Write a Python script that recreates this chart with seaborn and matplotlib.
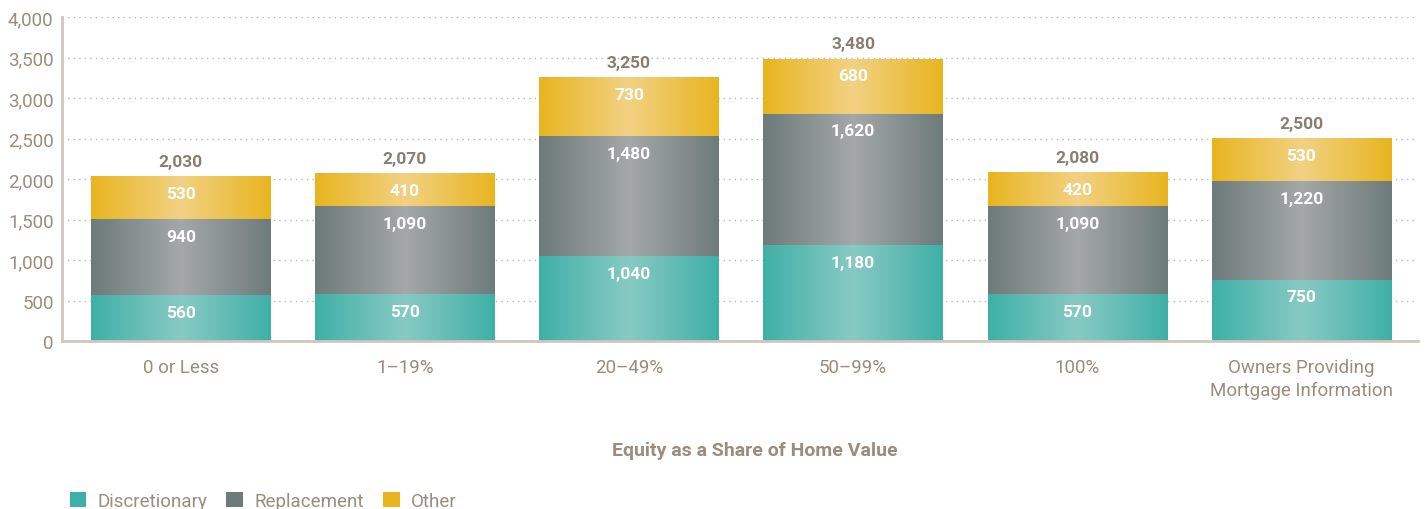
import numpy as np
import pandas as pd
import matplotlib
matplotlib.use("Agg")
import matplotlib.pyplot as plt
from matplotlib.colors import LinearSegmentedColormap
from matplotlib.patches import Patch
import seaborn as sns

categories = ["0 or Less", "1\u201319%", "20\u201349%", "50\u201399%", "100%",
              "Owners Providing\nMortgage Information"]
discretionary = [560, 570, 1040, 1180, 570, 750]
replacement = [940, 1090, 1480, 1620, 1090, 1220]
other = [530, 410, 730, 680, 420, 530]
totals = [2030, 2070, 3250, 3480, 2080, 2500]
series_names = ["Discretionary", "Replacement", "Other"]

# edge colour / centre colour for the bar gradients
edge_cols = ["#3fb0a7", "#6d7b7a", "#e8b520"]
mid_cols = ["#88cac4", "#a4a8a8", "#f2d183"]
text_col = "#9a8c7e"

sns.set_style("white")
plt.rcParams['font.family'] = ['Roboto', 'DejaVu Sans']

df = pd.DataFrame({"cat": categories,
                   "Discretionary": discretionary,
                   "Replacement": replacement,
                   "Other": other})
df["cum1"] = df["Discretionary"]
df["cum2"] = df["Discretionary"] + df["Replacement"]
df["cum3"] = df["cum2"] + df["Other"]

fig, ax = plt.subplots(figsize=(14.25, 5.1), dpi=100)
fig.subplots_adjust(left=0.0435, right=0.995, bottom=0.3294, top=0.9647)

layers = [("cum3", 2), ("cum2", 1), ("cum1", 0)]
for z, (col, si) in enumerate(layers):
    n_before = len(ax.patches)
    sns.barplot(data=df, x="cat", y=col, color=edge_cols[si], width=0.8,
                saturation=1, ax=ax, zorder=2 + 2 * z, linewidth=0)
    cmap = LinearSegmentedColormap.from_list(
        "g%d" % si, [edge_cols[si], mid_cols[si], edge_cols[si]])
    grad = np.linspace(0, 1, 256).reshape(1, -1)
    for p in ax.patches[n_before:]:
        x0, y0 = p.get_x(), p.get_y()
        w, h = p.get_width(), p.get_height()
        ax.imshow(grad, cmap=cmap, aspect="auto", extent=(x0, x0 + w, y0, y0 + h),
                  zorder=3 + 2 * z, interpolation="bilinear")

ax.set_xlim(-0.53, 5.52)
ax.set_ylim(0, 4000)

# segment labels, placed a fixed distance below each segment top
for i in range(len(categories)):
    tops = [df["cum1"][i], df["cum2"][i], df["cum3"][i]]
    vals = [discretionary[i], replacement[i], other[i]]
    for t, v in zip(tops, vals):
        ax.annotate(f"{v:,}", (i, t), xytext=(0, -12), textcoords="offset points",
                    ha="center", va="center", color="white", fontsize=12.5,
                    fontweight="bold", zorder=20)
    ax.annotate(f"{totals[i]:,}", (i, totals[i]), xytext=(0, 11),
                textcoords="offset points", ha="center", va="center",
                color="#8a7e72", fontsize=12.5, fontweight="bold", zorder=20)

ax.set_yticks(range(0, 4001, 500))
ax.set_yticklabels([f"{v:,}" for v in range(0, 4001, 500)])
ax.yaxis.grid(True, linestyle=(0, (1, 3)), color="#bdb4aa", linewidth=1)
ax.set_axisbelow(True)
ax.tick_params(axis="both", length=0, labelsize=13.5, colors=text_col)
ax.tick_params(axis="x", pad=12)
ax.tick_params(axis="y", pad=6)
for lbl in ax.get_xticklabels():
    lbl.set_linespacing(1.35)

for s in ["top", "right"]:
    ax.spines[s].set_visible(False)
for s in ["left", "bottom"]:
    ax.spines[s].set_color("#cfc7be")
    ax.spines[s].set_linewidth(2)
    ax.spines[s].set_zorder(15)

ax.set_xlabel("Equity as a Share of Home Value", fontsize=14,
              fontweight="bold", color=text_col, labelpad=26)
ax.xaxis.set_label_coords(0.511, -0.31)
ax.set_ylabel("")

handles = [Patch(facecolor=c, edgecolor="none") for c in edge_cols]
fig.legend(handles, series_names, loc="lower left", bbox_to_anchor=(0.037, -0.035),
           ncol=3, frameon=False, fontsize=13.5, labelcolor=text_col,
           handlelength=0.9, handleheight=0.9, handletextpad=0.6,
           columnspacing=1.0)

fig.savefig("out.png", dpi=100)
